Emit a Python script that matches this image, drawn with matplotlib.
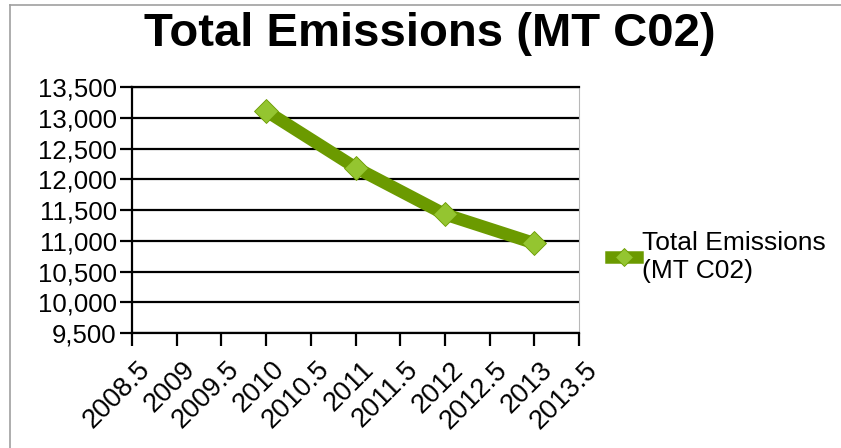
import matplotlib
matplotlib.use('Agg')
import matplotlib.pyplot as plt
import matplotlib.transforms as mtransforms
from matplotlib.ticker import FuncFormatter, MultipleLocator
from matplotlib.lines import Line2D

plt.rcParams['font.family'] = ['Liberation Sans', 'DejaVu Sans']

# Data
years = [2010, 2011, 2012, 2013]
emissions = [13110, 12190, 11430, 10960]
series_name = 'Total Emissions\n(MT C02)'
title = 'Total Emissions (MT C02)'

line_col = '#6b9a00'
marker_col = '#94c530'

fig = plt.figure(figsize=(8.41, 4.48), dpi=100)
ax = fig.add_axes([132 / 841, 1 - 333 / 448, (579 - 132) / 841, (333 - 87) / 448])

ax.plot(years, emissions, color=line_col, lw=9, solid_capstyle='butt',
        marker='D', markersize=12, markerfacecolor=marker_col,
        markeredgecolor=line_col, markeredgewidth=0.6, zorder=5, clip_on=False)

ax.set_xlim(2008.5, 2013.5)
ax.set_ylim(9500, 13500)
ax.xaxis.set_major_locator(MultipleLocator(0.5))
ax.yaxis.set_major_locator(MultipleLocator(500))
ax.xaxis.set_major_formatter(FuncFormatter(lambda v, p: ('%g' % v)))
ax.yaxis.set_major_formatter(FuncFormatter(lambda v, p: '{:,.0f}'.format(v)))

ax.grid(axis='y', color='black', lw=1.6)
ax.set_axisbelow(True)
ax.tick_params(axis='both', direction='out', length=9, width=1.6, color='black',
               labelsize=18.5, pad=2)
ax.tick_params(axis='x', pad=8, labelsize=19.5)
shift = mtransforms.ScaledTranslation(5 / 100, 0, fig.dpi_scale_trans)
for lab in ax.get_xticklabels():
    lab.set_rotation(45)
    lab.set_ha('right')
    lab.set_rotation_mode('anchor')
    lab.set_transform(lab.get_transform() + shift)

for s in ['left', 'bottom', 'top']:
    ax.spines[s].set_color('black')
    ax.spines[s].set_linewidth(1.6)
ax.spines['right'].set_color('#b8b8b8')
ax.spines['right'].set_linewidth(0.8)

fig.text(0.511, 1 - 34 / 448, title, ha='center', va='center',
         fontsize=34, fontweight='bold')

handle = Line2D([], [], color=line_col, lw=9, marker='D', markersize=9,
                markerfacecolor=marker_col, markeredgecolor=line_col,
                markeredgewidth=0.6)
fig.legend([handle], [series_name], loc='center left',
           bbox_to_anchor=(587 / 841, 1 - 257 / 448), frameon=False,
           fontsize=19, handlelength=1.0, handletextpad=0.2)

# outer frame lines (top and left only)
fig.add_artist(Line2D([10 / 841, 1], [1 - 5 / 448, 1 - 5 / 448], color='#a0a0a0', lw=1.2))
fig.add_artist(Line2D([10 / 841, 10 / 841], [0, 1 - 5 / 448], color='#a0a0a0', lw=1.2))

fig.savefig('out.png', dpi=100)
